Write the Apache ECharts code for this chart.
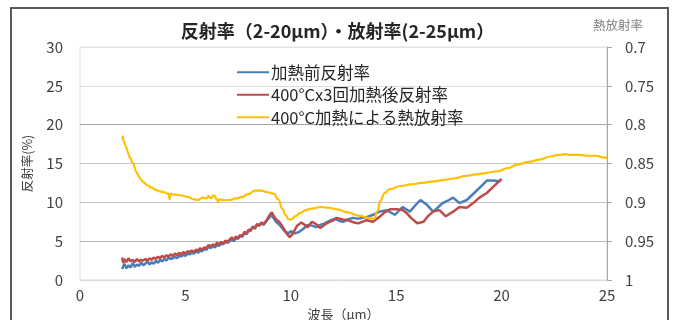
<!DOCTYPE html>
<html>
<head>
<meta charset="utf-8">
<script src="https://cdn.jsdelivr.net/npm/echarts@6/dist/echarts.min.js"></script>
<style>
  html, body { margin: 0; padding: 0; background: #ffffff; }
  #chart { width: 675px; height: 320px; }
</style>
</head>
<body>
<div id="chart"></div>
<script>
// Reflectance before heating [wavelength µm, %]
var reflBefore = [
  [2.0,1.4],[2.1,2.1],[2.2,1.5],[2.3,1.9],[2.4,1.6],[2.5,2.2],[2.6,1.7],[2.7,2.0],[2.8,1.8],[2.9,2.3],
  [3.0,1.9],[3.1,2.1],[3.2,2.4],[3.3,2.0],[3.4,2.3],[3.5,2.1],[3.6,2.5],[3.7,2.2],[3.8,2.6],[3.9,2.4],
  [4.0,2.7],[4.1,2.5],[4.2,2.9],[4.3,2.7],[4.4,2.8],[4.5,3.0],[4.6,2.8],[4.7,3.1],[4.8,3.0],[4.9,3.3],
  [5.0,3.1],[5.1,3.4],[5.2,3.3],[5.3,3.5],[5.4,3.4],[5.5,3.7],[5.6,3.5],[5.7,3.8],[5.8,3.7],[5.9,4.0],
  [6.0,3.9],[6.1,4.3],[6.2,4.1],[6.3,4.4],[6.4,4.2],[6.5,4.5],[6.6,4.4],[6.7,4.7],[6.8,4.6],[6.9,4.9],
  [7.0,4.8],[7.1,5.0],[7.2,5.2],[7.3,5.0],[7.4,5.4],[7.5,5.3],[7.6,5.7],[7.7,5.6],[7.8,6.0],[7.9,5.9],
  [8.0,6.3],[8.1,6.5],[8.2,6.8],[8.3,6.6],[8.4,7.2],[8.5,7.0],[8.6,7.3],[8.7,7.1],[8.8,7.4],[8.9,7.8],
  [9.0,8.1],[9.1,8.3],[9.2,7.9],[9.3,7.5],[9.5,7.0],[9.7,6.3],[9.9,6.0],[10.0,6.3],[10.2,6.0],[10.4,6.2],
  [10.6,6.6],[10.8,7.1],[11.0,7.0],[11.2,6.8],[11.4,7.1],[11.6,7.3],[11.9,7.7],[12.1,7.9],[12.3,7.6],[12.5,7.5],
  [12.7,7.8],[12.95,8.0],[13.2,7.9],[13.6,8.1],[13.9,8.4],[14.2,8.8],[14.55,9.0],[14.8,8.6],[14.95,8.4],[15.3,9.4],
  [15.65,8.8],[15.9,9.6],[16.15,10.3],[16.45,9.7],[16.75,8.8],[17.0,9.4],[17.2,9.9],[17.5,10.3],[17.7,10.6],[18.0,9.9],
  [18.35,10.3],[18.7,11.2],[19.0,12.0],[19.3,12.8],[19.6,12.8],[19.95,12.7]
];

// Reflectance after 3 heating cycles at 400°C [wavelength µm, %]
var reflAfter = [
  [2.0,2.9],[2.05,2.2],[2.1,2.7],[2.2,2.3],[2.3,2.8],[2.4,2.4],[2.5,2.6],[2.6,2.3],[2.7,2.7],[2.8,2.4],
  [2.9,2.6],[3.0,2.5],[3.1,2.7],[3.2,2.5],[3.3,2.8],[3.4,2.6],[3.5,2.9],[3.6,2.7],[3.7,3.0],[3.8,2.8],
  [3.9,3.1],[4.0,2.9],[4.1,3.2],[4.2,3.0],[4.3,3.3],[4.4,3.1],[4.5,3.4],[4.6,3.2],[4.7,3.5],[4.8,3.3],
  [4.9,3.6],[5.0,3.4],[5.1,3.7],[5.2,3.6],[5.3,3.8],[5.4,3.6],[5.5,3.9],[5.6,3.8],[5.7,4.1],[5.8,3.9],
  [5.9,4.2],[6.0,4.1],[6.1,4.5],[6.2,4.3],[6.3,4.6],[6.4,4.4],[6.5,4.8],[6.6,4.6],[6.7,4.9],[6.8,4.7],
  [6.9,5.1],[7.0,4.9],[7.1,5.2],[7.2,5.5],[7.3,5.2],[7.4,5.6],[7.5,5.4],[7.6,5.8],[7.7,5.6],[7.8,6.2],
  [7.9,6.0],[8.0,6.5],[8.1,6.3],[8.2,6.9],[8.3,6.7],[8.4,7.2],[8.5,7.0],[8.6,7.4],[8.7,7.2],[8.8,7.5],
  [8.9,7.9],[9.0,8.4],[9.1,8.7],[9.2,8.2],[9.3,7.8],[9.45,7.5],[9.6,6.9],[9.8,6.0],[9.95,5.5],[10.1,6.0],
  [10.3,7.0],[10.5,7.4],[10.65,7.1],[10.8,6.8],[11.0,7.5],[11.2,7.2],[11.4,6.7],[11.7,7.3],[11.95,7.6],[12.2,8.0],
  [12.45,7.8],[12.7,7.7],[13.0,7.4],[13.2,7.3],[13.6,7.7],[13.9,7.5],[14.2,8.1],[14.45,8.7],[14.7,9.1],[15.0,9.1],
  [15.3,9.0],[15.5,8.6],[15.7,8.0],[16.0,7.3],[16.3,7.5],[16.5,8.2],[16.75,8.8],[17.05,9.0],[17.35,8.2],[17.7,8.8],
  [18.0,9.4],[18.35,9.3],[18.65,9.9],[18.95,10.6],[19.3,11.2],[19.6,12.0],[19.8,12.5],[20.0,13.0]
];

// Thermal emissivity after heating at 400°C [wavelength µm, emissivity]
var emissivity = [
  [2.0,0.818],[2.03,0.815],[2.06,0.821],[2.1,0.822],[2.15,0.827],[2.2,0.830],[2.25,0.834],[2.3,0.838],
  [2.35,0.842],[2.4,0.843],[2.45,0.847],[2.5,0.849],[2.55,0.851],[2.6,0.856],[2.65,0.860],[2.7,0.862],
  [2.8,0.867],[2.9,0.871],[3.0,0.874],[3.2,0.878],[3.4,0.881],[3.6,0.884],[3.8,0.886],[4.0,0.887],
  [4.2,0.889],[4.25,0.896],[4.3,0.889],[4.5,0.890],[4.8,0.891],[5.1,0.893],[5.4,0.896],[5.6,0.897],
  [5.8,0.894],[6.0,0.895],[6.1,0.892],[6.2,0.895],[6.35,0.891],[6.5,0.896],[6.55,0.900],[6.6,0.896],
  [6.8,0.897],[7.1,0.897],[7.4,0.895],[7.7,0.893],[8.0,0.889],[8.3,0.885],[8.6,0.885],[8.9,0.887],
  [9.2,0.889],[9.4,0.896],[9.6,0.908],[9.75,0.916],[9.9,0.922],[10.05,0.922],[10.2,0.918],[10.45,0.914],
  [10.7,0.910],[11.0,0.908],[11.4,0.906],[11.8,0.907],[12.2,0.909],[12.7,0.913],[13.2,0.917],[13.7,0.920],
  [13.95,0.921],[14.1,0.912],[14.25,0.898],[14.45,0.888],[14.7,0.883],[15.2,0.879],[15.7,0.877],[16.2,0.875],
  [16.8,0.873],[17.3,0.871],[17.8,0.869],[18.3,0.866],[18.8,0.864],[19.3,0.862],[19.8,0.860],[20.3,0.856],
  [20.8,0.851],[21.3,0.848],[21.8,0.845],[22.3,0.841],[22.7,0.839],[23.0,0.838],[23.3,0.839],[23.7,0.839],
  [24.1,0.840],[24.5,0.840],[24.8,0.842],[25.0,0.843]
];

var seriesNames = ['加熱前反射率', '400°Cx3回加熱後反射率', '400°C加熱による熱放射率'];
var seriesColors = ['#4a7ebb', '#be4b48', '#ffc000'];

var jp = "'Noto Sans CJK JP', 'Noto Sans', sans-serif";
var chart = echarts.init(document.getElementById('chart'), null, { renderer: 'canvas' });

chart.setOption({
  animation: false,
  backgroundColor: '#ffffff',
  title: {
    text: '反射率（2-20μm）・放射率(2-25μm）',
    left: 'center',
    top: 17,
    textStyle: { fontFamily: jp, fontSize: 18, fontWeight: 'bold', color: '#262626' }
  },
  graphic: [
    {
      type: 'rect', silent: true, z: -1,
      shape: { x: 11, y: 8, width: 657, height: 330 },
      style: { fill: 'none', stroke: '#595959', lineWidth: 2 }
    },
    {
      type: 'text', left: 593, top: 19,
      style: { text: '熱放射率', font: "12.5px 'Noto Sans CJK JP'", fill: '#7f7f7f' }
    }
  ],
  legend: {
    orient: 'vertical',
    left: 232,
    top: 59,
    itemWidth: 32,
    itemHeight: 2,
    itemGap: 6,
    icon: 'rect',
    data: seriesNames,
    textStyle: { fontFamily: jp, fontSize: 16.5, color: '#262626', padding: [0, 0, 0, -3] }
  },
  grid: {
    left: 80, right: 68, top: 47, bottom: 40,
    outerBoundsMode: 'none', containLabel: false,
    show: true, borderColor: '#d9d9d9', borderWidth: 1
  },
  xAxis: {
    type: 'value',
    min: 0, max: 25, interval: 5,
    name: '波長（μm）',
    nameLocation: 'middle',
    nameGap: 25,
    nameTextStyle: { fontFamily: jp, fontSize: 13, color: '#404040' },
    axisLine: { show: false },
    axisTick: { show: false },
    splitLine: { show: false },
    axisLabel: { fontFamily: jp, fontSize: 15, color: '#404040', margin: 8 }
  },
  yAxis: [
    {
      type: 'value',
      min: 0, max: 30, interval: 5,
      name: '反射率(%)',
      nameLocation: 'middle',
      nameRotate: 90,
      nameGap: 46,
      nameTextStyle: { fontFamily: jp, fontSize: 12.5, color: '#404040' },
      axisLine: { show: false },
      axisTick: { show: false },
      axisLabel: { fontFamily: jp, fontSize: 15, color: '#404040', margin: 17 },
      splitLine: { lineStyle: { color: ['#d9d9d9', '#b8b8b8', '#c4c4c4', '#c4c4c4', '#a6a6a6', '#dedede', '#e3e3e3'], width: 1 } }
    },
    {
      type: 'value',
      min: 0.7, max: 1, interval: 0.05,
      inverse: true,
      position: 'right',
      axisLine: { show: true, lineStyle: { color: '#a6a6a6', width: 1 } },
      axisTick: { show: true, length: 5, inside: false, lineStyle: { color: '#a6a6a6' } },
      axisLabel: { fontFamily: jp, fontSize: 15, color: '#404040', margin: 18 },
      splitLine: { show: false }
    }
  ],
  series: [
    {
      name: seriesNames[0], type: 'line', yAxisIndex: 0, data: reflBefore,
      showSymbol: false, symbol: 'none', smooth: false,
      lineStyle: { color: seriesColors[0], width: 2.5 }, itemStyle: { color: seriesColors[0] }, z: 3
    },
    {
      name: seriesNames[1], type: 'line', yAxisIndex: 0, data: reflAfter,
      showSymbol: false, symbol: 'none', smooth: false,
      lineStyle: { color: seriesColors[1], width: 2.5 }, itemStyle: { color: seriesColors[1] }, z: 4
    },
    {
      name: seriesNames[2], type: 'line', yAxisIndex: 1, data: emissivity,
      showSymbol: false, symbol: 'none', smooth: true, smoothMonotone: 'x',
      lineStyle: { color: seriesColors[2], width: 2.2 }, itemStyle: { color: seriesColors[2] }, z: 5
    }
  ]
});
</script>
</body>
</html>
